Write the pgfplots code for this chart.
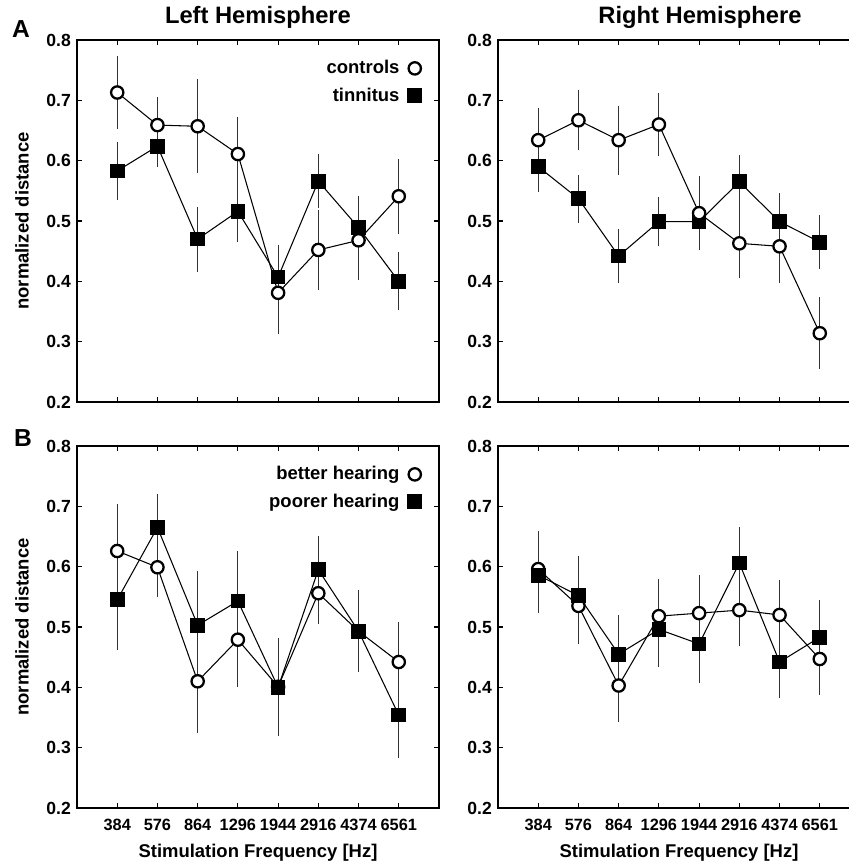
\documentclass[border=0pt]{standalone}
\usepackage{fontspec}
\setmainfont{Liberation Sans}
\usepackage{pgfplots}
\usepackage{pgfplotstable}
\pgfplotsset{compat=1.18}

% columns: x, group 1 (open circles) mean/error, group 2 (filled squares) mean/error
\pgfplotstableread{
x  c     ce    t     te
1  0.713 0.060 0.583 0.048
2  0.659 0.047 0.624 0.035
3  0.657 0.078 0.470 0.054
4  0.611 0.062 0.516 0.050
5  0.381 0.068 0.407 0.054
6  0.452 0.066 0.566 0.045
7  0.468 0.065 0.489 0.052
8  0.541 0.062 0.400 0.048
}\leftA
\pgfplotstableread{
x  c     ce    t     te
1  0.634 0.054 0.590 0.042
2  0.667 0.050 0.537 0.040
3  0.634 0.057 0.442 0.045
4  0.660 0.052 0.499 0.040
5  0.513 0.061 0.499 0.045
6  0.463 0.057 0.565 0.045
7  0.458 0.060 0.499 0.048
8  0.314 0.060 0.465 0.045
}\rightA
\pgfplotstableread{
x  c     ce    t     te
1  0.626 0.078 0.545 0.083
2  0.599 0.050 0.665 0.055
3  0.410 0.086 0.503 0.090
4  0.479 0.079 0.543 0.083
5  0.401 0.080 0.400 0.080
6  0.556 0.051 0.595 0.056
7  0.493 0.068 0.493 0.068
8  0.442 0.067 0.354 0.071
}\leftB
\pgfplotstableread{
x  c     ce    t     te
1  0.596 0.063 0.586 0.063
2  0.535 0.063 0.552 0.066
3  0.403 0.061 0.455 0.065
4  0.518 0.062 0.496 0.062
5  0.523 0.064 0.472 0.065
6  0.528 0.060 0.606 0.060
7  0.520 0.058 0.442 0.060
8  0.447 0.059 0.483 0.062
}\rightB

\pgfplotsset{
  panel/.style={
    scale only axis, width=7.24cm, height=7.24cm,
    xmin=0, xmax=9, ymin=0.2, ymax=0.8,
    xtick={1,...,8}, ytick={0.2,0.3,...,0.8},
    xticklabels={384,576,864,1296,1944,2916,4374,6561},
    tick align=inside, major tick length=0.1cm,
    tick style={black, line width=0.6pt},
    axis line style={line width=0.6pt},
    /pgf/number format/assume math mode=true,
    y tick label style={/pgf/number format/.cd, fixed, fixed zerofill, precision=1,
      /tikz/.cd, font=\fontsize{10}{12}\selectfont\bfseries},
    x tick label style={yshift=-0.1cm, font=\fontsize{9.3}{11}\selectfont\bfseries},
    label style={font=\fontsize{10.5}{12}\selectfont\bfseries},
    ylabel style={at={(axis description cs:-0.152,0.5)}, anchor=center},
    xlabel style={at={(axis description cs:0.5,-0.1235)}, anchor=center},
    title style={anchor=base, yshift=0.11cm, font=\fontsize{13.5}{15}\selectfont\bfseries},
    legend style={draw=none, fill=none, at={(1,1)}, anchor=north east,
      xshift=-0.34cm, yshift=-0.33cm, inner sep=0pt, row sep=2.5pt, column sep=0.1cm,
      font=\fontsize{10.5}{12}\selectfont\bfseries, cells={anchor=east}},
    legend plot pos=right,
  },
  circ/.style={black, line width=0.6pt, mark=*, mark size=3.5pt,
    mark options={fill=white, line width=1.3pt, solid}},
  sq/.style={black, line width=0.6pt, mark=square*, mark size=3.9pt,
    mark options={fill=black, solid}},
  ebar/.style={
    /pgfplots/error bars/y dir=both,
    /pgfplots/error bars/y explicit,
    /pgfplots/error bars/error mark=none,
    /pgfplots/error bars/error bar style={line width=0.6pt, black!80}},
}

\begin{document}
\begin{tikzpicture}
\useasboundingbox (0,0) rectangle (16.98,-17.28);
\clip (0,0) rectangle (16.98,-17.28);

\node[font=\fontsize{14}{16}\selectfont\bfseries] at (0.42,-0.58) {A};
\node[font=\fontsize{14}{16}\selectfont\bfseries] at (0.46,-8.76) {B};

% A, left
\begin{axis}[panel, at={(1.54cm,-8.04cm)}, anchor=south west,
  xticklabels={}, ylabel={normalized distance},
  title={Left Hemisphere}, title style={at={(axis description cs:0.5,1)}}]
\addlegendimage{circ, only marks}
\addlegendentry{controls}
\addlegendimage{sq, only marks}
\addlegendentry{tinnitus}
\addplot[sq, ebar, forget plot] table[x=x, y=t, y error=te] {\leftA};
\addplot[circ, ebar, forget plot] table[x=x, y=c, y error=ce] {\leftA};
\end{axis}

% A, right
\begin{axis}[panel, at={(9.96cm,-8.04cm)}, anchor=south west,
  xticklabels={},
  title={Right Hemisphere}, title style={at={(axis description cs:0.558,1)}}]
\addplot[sq, ebar] table[x=x, y=t, y error=te] {\rightA};
\addplot[circ, ebar] table[x=x, y=c, y error=ce] {\rightA};
\end{axis}

% B, left
\begin{axis}[panel, at={(1.54cm,-16.16cm)}, anchor=south west,
  ylabel={normalized distance}, xlabel={Stimulation Frequency [Hz]}]
\addlegendimage{circ, only marks}
\addlegendentry{better hearing}
\addlegendimage{sq, only marks}
\addlegendentry{poorer hearing}
\addplot[circ, ebar, forget plot] table[x=x, y=c, y error=ce] {\leftB};
\addplot[sq, ebar, forget plot] table[x=x, y=t, y error=te] {\leftB};
\end{axis}

% B, right
\begin{axis}[panel, at={(9.96cm,-16.16cm)}, anchor=south west,
  xlabel={Stimulation Frequency [Hz]}]
\addplot[circ, ebar] table[x=x, y=c, y error=ce] {\rightB};
\addplot[sq, ebar] table[x=x, y=t, y error=te] {\rightB};
\end{axis}
\end{tikzpicture}
\end{document}
